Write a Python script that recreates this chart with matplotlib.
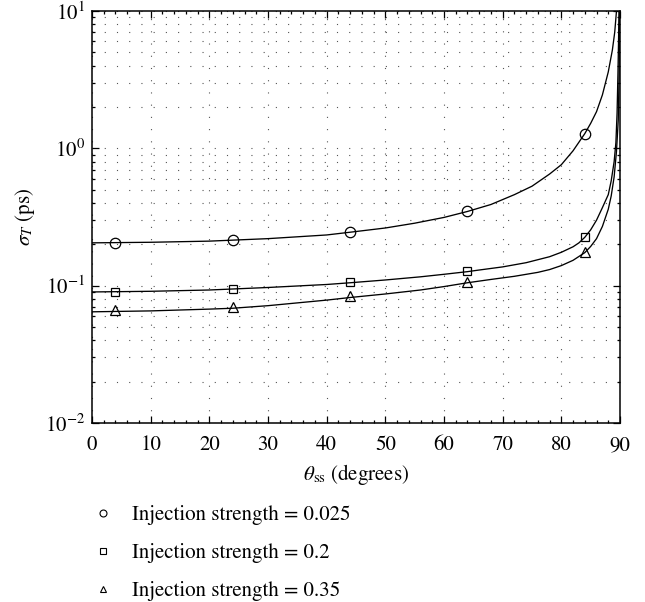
import matplotlib
matplotlib.use("Agg")
import matplotlib.pyplot as plt
from matplotlib.lines import Line2D
from matplotlib.ticker import LogLocator, MultipleLocator, NullFormatter

plt.rcParams["font.family"] = ["STIXGeneral", "DejaVu Serif"]
plt.rcParams["mathtext.fontset"] = "stix"

# Model curves (theta_ss in degrees, sigma_T in ps)
curve_a_x = [0, 10, 20, 30, 40, 44, 50, 55, 60, 64, 68, 72, 75, 78, 80, 82, 84,
             85, 86, 87, 88, 88.7, 89.1, 89.4]
curve_a_y = [0.205, 0.207, 0.211, 0.220, 0.234, 0.245, 0.263, 0.285, 0.314, 0.347, 0.39, 0.46, 0.53, 0.65, 0.76, 0.96, 1.28,
             1.52, 1.85, 2.45, 3.6, 5.2, 7.0, 10.0]

curve_b_x = [0, 10, 20, 30, 40, 44, 50, 56, 60, 64, 66, 70, 74, 78, 80, 82, 83, 84,
             85, 86, 87, 88, 88.5, 89, 89.3, 89.5, 89.65, 89.75, 89.82]
curve_b_y = [0.090, 0.091, 0.093, 0.097, 0.102, 0.105, 0.110, 0.116, 0.121, 0.1265, 0.130, 0.137, 0.147, 0.1625, 0.175, 0.192, 0.205, 0.225,
             0.255, 0.30, 0.37, 0.46, 0.58, 0.80, 1.1, 1.8, 3.5, 6.0, 10.0]

curve_c_x = [0, 10, 20, 24, 30, 40, 44, 50, 56, 60, 64, 68, 72, 76, 78, 80, 82, 84,
             85, 86, 87, 88, 88.5, 89, 89.4, 89.7, 89.85, 89.95]
curve_c_y = [0.0645, 0.0655, 0.0675, 0.0685, 0.0715, 0.0785, 0.082, 0.087, 0.093, 0.0985, 0.105, 0.111, 0.117, 0.125, 0.131, 0.140, 0.153, 0.174,
             0.193, 0.22, 0.27, 0.36, 0.45, 0.62, 0.95, 1.6, 3.5, 10.0]

# Simulated points
theta_pts = [4, 24, 44, 64, 84]
sim_a = [0.206, 0.216, 0.247, 0.350, 1.28]
sim_b = [0.0905, 0.0950, 0.106, 0.1270, 0.226]
sim_c = [0.0660, 0.0700, 0.0835, 0.107, 0.177]

labels = ["Injection strength = 0.025",
          "Injection strength = 0.2",
          "Injection strength = 0.35"]

x_ticks = [0, 10, 20, 30, 40, 50, 60, 70, 80, 90]

FS = 15

fig = plt.figure(figsize=(6.45, 6.02), dpi=100)
ax = fig.add_axes([92 / 645, 1 - 423 / 602, (620 - 92) / 645, (423 - 11) / 602])

ax.set_yscale("log")
ax.set_xlim(0, 90)
ax.set_ylim(1e-2, 1e1)

# grid
ax.xaxis.set_major_locator(plt.FixedLocator(x_ticks))
ax.xaxis.set_minor_locator(MultipleLocator(2))
ax.yaxis.set_major_locator(LogLocator(base=10, numticks=10))
ax.yaxis.set_minor_locator(LogLocator(base=10, subs=range(2, 10), numticks=20))
ax.yaxis.set_minor_formatter(NullFormatter())
grid_kw = dict(color="#555555", linewidth=0.8, linestyle=(0, (1, 10)))
ax.grid(True, which="major", axis="both", **grid_kw)
ax.grid(True, which="minor", axis="y", **grid_kw)
ax.set_axisbelow(True)

line_kw = dict(color="black", linewidth=0.95)
ax.plot(curve_a_x, curve_a_y, **line_kw)
ax.plot(curve_b_x, curve_b_y, **line_kw)
ax.plot(curve_c_x, curve_c_y, **line_kw)

mk_kw = dict(linestyle="none", markerfacecolor="none", markeredgecolor="black", markeredgewidth=0.9)
ax.plot(theta_pts, sim_a, marker="o", markersize=7.5, **mk_kw)
ax.plot(theta_pts, sim_b, marker="s", markersize=6.0, **mk_kw)
ax.plot(theta_pts, sim_c, marker="^", markersize=7.5, **mk_kw)

for s in ax.spines.values():
    s.set_linewidth(1.1)
ax.tick_params(which="both", direction="in", top=True, right=True, labelsize=FS, width=0.9)
ax.tick_params(which="major", length=5)
ax.tick_params(axis="x", which="major", pad=9)
ax.tick_params(axis="y", which="major", pad=5)
ax.tick_params(which="minor", length=2.5)

ax.set_xlabel(r"$\theta_{\mathrm{ss}}$ (degrees)", fontsize=FS, labelpad=5)
ax.set_ylabel(r"$\sigma_T$ (ps)", fontsize=FS, labelpad=6)

handles = [
    Line2D([], [], linestyle="none", marker="o", markersize=5, markerfacecolor="none", markeredgecolor="black", markeredgewidth=0.8),
    Line2D([], [], linestyle="none", marker="s", markersize=4.5, markerfacecolor="none", markeredgecolor="black", markeredgewidth=0.8),
    Line2D([], [], linestyle="none", marker="^", markersize=5, markerfacecolor="none", markeredgecolor="black", markeredgewidth=0.8),
]
fig.legend(handles, labels, loc="upper left", bbox_to_anchor=(92.6 / 645, 1 - 505 / 602),
           frameon=False, fontsize=FS, handlelength=1.0, handletextpad=0.88,
           labelspacing=0.86, borderpad=0, borderaxespad=0)

fig.savefig("out.png", dpi=100)
